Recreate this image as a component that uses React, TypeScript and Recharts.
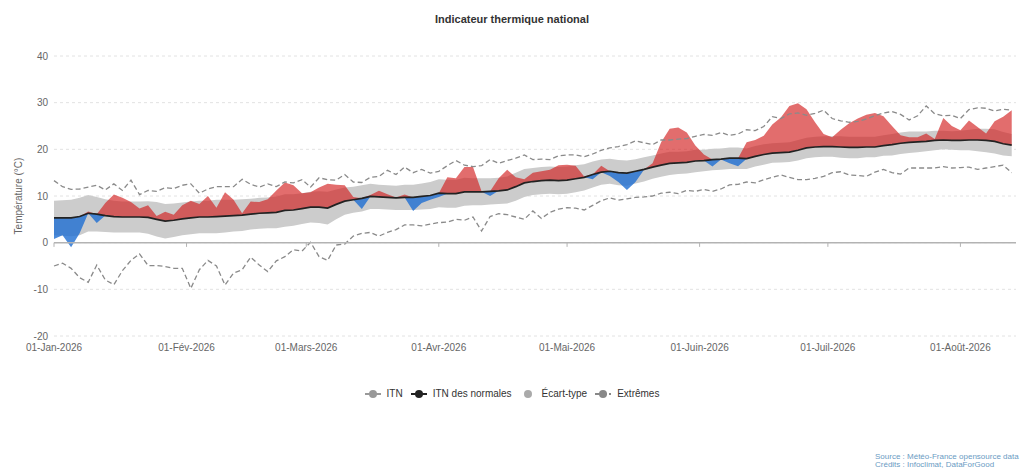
import { Area, CartesianGrid, ComposedChart, Line, ReferenceLine, XAxis, YAxis } from "recharts";

const FONT = "'Liberation Sans', Arial, Helvetica, sans-serif";

// x axis: day of year from 01-Jan-2026, labelled on the 1st of each month
const monthDays = [0, 31, 59, 90, 120, 151, 181, 212];
const monthLabels = [
  "01-Jan-2026",
  "01-Fév-2026",
  "01-Mars-2026",
  "01-Avr-2026",
  "01-Mai-2026",
  "01-Juin-2026",
  "01-Juil-2026",
  "01-Août-2026",
];
const yTicks = [-20, -10, 0, 10, 20, 30, 40];

// one reading every 2 days, 01-Jan -> 13-Août
const itn = [
  0.8, 1.6, -1.0, 2.0, 6.7, 4.2, 8.5, 10.3, 9.6, 8.7,
  7.3, 8.0, 5.7, 6.6, 6.0, 8.0, 9.0, 8.3, 10.0, 7.5,
  10.8, 9.2, 6.3, 8.8, 8.7, 9.3, 11.2, 12.9, 12.3, 10.6,
  10.8, 11.8, 12.6, 12.4, 12.3, 9.8, 7.2, 10.2, 11.1, 10.4,
  9.7, 10.3, 6.8, 8.5, 9.2, 9.8, 14.0, 13.8, 16.2, 16.2,
  11.0, 10.0, 13.8, 15.6, 14.0, 13.6, 15.0, 15.3, 15.6, 16.6,
  16.7, 16.5, 14.2, 13.6, 16.5, 14.3, 13.0, 11.3, 13.0, 15.6,
  17.0, 21.5, 24.4, 24.7, 23.6, 20.8, 18.9, 16.3, 17.8, 17.0,
  16.4, 21.5, 22.0, 22.9, 25.3, 26.8, 29.3, 29.9, 28.6, 25.8,
  23.3, 22.6, 24.2, 25.6, 26.6, 27.4, 27.8, 27.1, 25.0, 23.0,
  22.6, 22.6, 23.4, 22.2, 26.7, 25.0, 24.1, 26.2, 24.8, 23.4,
  26.0, 27.0, 28.4,
];

const normales = [
  5.3, 5.3, 5.3, 5.6, 6.3, 6.1, 5.8, 5.6, 5.5, 5.5,
  5.5, 5.4, 5.0, 4.6, 4.8, 5.1, 5.3, 5.5, 5.5, 5.6,
  5.7, 5.8, 5.9, 6.1, 6.3, 6.4, 6.5, 6.9, 7.0, 7.3,
  7.6, 7.6, 7.4, 8.2, 8.9, 9.2, 9.5, 9.9, 9.8, 9.7,
  9.6, 9.7, 9.7, 9.9, 10.1, 10.6, 10.5, 10.5, 10.9, 10.9,
  10.9, 11.0, 11.1, 11.3, 12.0, 12.8, 13.1, 13.3, 13.4, 13.3,
  13.4, 13.7, 14.0, 14.6, 15.1, 15.3, 15.0, 14.9, 15.3, 15.7,
  16.2, 16.6, 17.0, 17.1, 17.2, 17.5, 17.6, 17.8, 17.9, 18.1,
  18.1, 18.0, 18.5, 18.9, 19.2, 19.3, 19.4, 19.8, 20.3, 20.5,
  20.6, 20.6, 20.5, 20.4, 20.4, 20.5, 20.5, 20.8, 21.0, 21.3,
  21.5, 21.6, 21.7, 21.9, 22.0, 21.9, 21.9, 22.0, 22.0, 21.9,
  21.7, 21.2, 20.9,
];

const ecartType = [
  3.7, 3.8, 3.9, 4.0, 3.9, 3.7, 3.5, 3.4, 3.3, 3.3,
  3.3, 3.5, 3.7, 3.7, 3.6, 3.5, 3.5, 3.5, 3.5, 3.6,
  3.5, 3.4, 3.4, 3.3, 3.3, 3.3, 3.4, 3.5, 3.4, 3.3,
  3.3, 3.4, 3.5, 3.2, 2.9, 2.8, 2.8, 2.7, 2.6, 2.6,
  2.6, 2.7, 2.7, 2.8, 2.9, 3.0, 3.0, 3.0, 3.0, 2.9,
  2.9, 2.8, 2.8, 2.9, 3.0, 3.0, 2.9, 2.9, 2.9, 2.9,
  2.9, 2.9, 2.8, 2.8, 2.7, 2.7, 2.7, 2.7, 2.6, 2.6,
  2.5, 2.5, 2.5, 2.4, 2.4, 2.4, 2.3, 2.3, 2.3, 2.3,
  2.3, 2.2, 2.2, 2.2, 2.1, 2.1, 2.1, 2.2, 2.2, 2.2,
  2.2, 2.2, 2.3, 2.3, 2.3, 2.2, 2.2, 2.2, 2.3, 2.3,
  2.3, 2.2, 2.1, 2.1, 2.0, 2.0, 2.1, 2.2, 2.4, 2.5,
  2.6, 2.5, 2.4,
];

const recordMax = [
  13.3, 12.0, 11.4, 11.5, 11.9, 12.3, 11.3, 12.6, 11.2, 13.4,
  10.3, 11.2, 11.0, 11.8, 11.6, 12.3, 12.6, 10.6, 11.5, 12.0,
  12.0, 12.0, 13.6, 12.5, 11.9, 12.6, 12.0, 13.0, 12.8, 13.5,
  11.9, 13.9, 13.5, 13.4, 14.6, 13.0, 12.9, 14.0, 14.2, 15.5,
  14.6, 16.2, 15.0, 15.7, 14.9, 15.3, 16.5, 17.6, 16.6, 16.3,
  16.5, 17.8, 17.0, 17.6, 18.1, 18.8, 17.8, 17.9, 17.8, 18.6,
  18.8, 18.8, 18.4, 19.0, 19.8, 20.3, 20.6, 21.0, 21.8, 21.4,
  21.0, 22.0, 22.0, 22.2, 22.3, 22.8, 23.2, 23.0, 23.6, 23.0,
  23.3, 24.2, 24.0, 24.9, 27.0, 26.6, 27.6, 27.8, 27.3, 27.7,
  28.4, 26.6, 26.1, 25.8, 26.0, 26.5, 27.2, 27.8, 28.1, 27.5,
  26.3, 27.2, 29.3, 27.6, 27.2, 27.3, 26.6, 28.5, 28.9, 28.8,
  28.2, 28.6, 28.4,
];

const recordMin = [
  -5.0, -4.4, -5.5, -7.5, -8.5, -4.8, -8.0, -9.0, -6.0, -3.8,
  -2.4, -4.9, -4.9, -5.1, -5.5, -5.5, -9.8, -5.8, -3.8, -5.0,
  -9.1, -6.5, -5.8, -3.1, -4.8, -6.2, -3.9, -3.0, -1.5, -1.8,
  0.1, -3.0, -3.8, -0.5, -0.3, 1.4, 2.0, 2.2, 1.4, 2.2,
  2.8, 3.8, 3.8, 3.6, 4.0, 4.3, 4.4, 5.0, 4.8, 5.5,
  2.5, 5.6, 6.2, 6.0, 5.5, 5.0, 6.8, 5.2, 6.5, 7.2,
  7.5, 7.4, 7.0, 8.0, 9.0, 9.6, 9.1, 9.4, 9.7, 9.8,
  10.0, 10.6, 10.8, 10.5, 11.2, 11.0, 11.4, 11.0, 11.5, 12.4,
  12.5, 13.0, 12.8, 13.5, 14.0, 14.5, 14.0, 13.5, 13.5, 13.8,
  14.2, 15.0, 15.2, 14.5, 14.4, 14.2, 15.1, 15.7, 15.0, 14.7,
  16.0, 16.0, 16.0, 16.0, 16.3, 16.0, 16.1, 16.2, 15.7, 16.0,
  16.3, 16.6, 15.0,
];

const data = normales.map((n, i) => {
  const t = itn[i];
  const s = ecartType[i];
  return {
    day: i * 2,
    itn: t,
    normale: n,
    ecart: [n - s, n + s],
    chaud: [n, Math.max(t, n)],
    froid: [Math.min(t, n), n],
    max: recordMax[i],
    min: recordMin[i],
  };
});

const axisGrey = "#b3b3b3";
const tickStyle = { fontSize: 10, fill: "#666", fontFamily: FONT };

function LegendIcon({ color, line, dashed }: { color: string; line: boolean; dashed?: boolean }) {
  return (
    <svg width={16} height={10} style={{ marginRight: 6 }}>
      {line && (
        <line x1={0} y1={5} x2={16} y2={5} stroke={color} strokeWidth={2} strokeDasharray={dashed ? "5 2" : undefined} />
      )}
      <circle cx={8} cy={5} r={4} fill={color} />
    </svg>
  );
}

const legendItems = [
  { label: "ITN", color: "#999", line: true },
  { label: "ITN des normales", color: "#222", line: true },
  { label: "Écart-type", color: "#aaa", line: false },
  { label: "Extrêmes", color: "#888", line: true, dashed: true },
];

export default function App() {
  return (
    <div style={{ position: "absolute", left: 0, top: 0, width: 1024, height: 471, background: "#fff", fontFamily: FONT }}>
      <ComposedChart width={1024} height={471} data={data} margin={{ top: 56, right: 8, bottom: 105, left: 0 }}>
        <CartesianGrid vertical={false} strokeDasharray="3 3" stroke="#e2e2e2" />
        <XAxis
          dataKey="day"
          type="number"
          domain={[0, 225]}
          ticks={monthDays}
          interval={0}
          tickFormatter={(d: number) => monthLabels[monthDays.indexOf(d)]}
          axisLine={false}
          tickLine={false}
          tick={tickStyle}
          height={30}
        />
        <YAxis
          type="number"
          domain={[-20, 40]}
          ticks={yTicks}
          interval={0}
          axisLine={false}
          tickLine={false}
          tickSize={4}
          tickMargin={2}
          tick={tickStyle}
          width={54}
        />
        <Area dataKey="ecart" type="linear" fill="#cccccc" fillOpacity={1} stroke="none" isAnimationActive={false} />
        <Line dataKey="max" type="linear" stroke="#8a8a8a" strokeWidth={1.3} strokeDasharray="5 3" dot={false} isAnimationActive={false} />
        <Line dataKey="min" type="linear" stroke="#8a8a8a" strokeWidth={1.3} strokeDasharray="5 3" dot={false} isAnimationActive={false} />
        <Area dataKey="chaud" type="linear" fill="rgb(210,30,30)" fillOpacity={0.65} stroke="none" isAnimationActive={false} />
        <Area dataKey="froid" type="linear" fill="rgb(30,110,210)" fillOpacity={0.8} stroke="none" isAnimationActive={false} />
        <ReferenceLine y={0} stroke={axisGrey} strokeWidth={1.5} />
        {monthDays.map((d) => (
          <ReferenceLine
            key={d}
            segment={[
              { x: d, y: 0 },
              { x: d, y: -0.9 },
            ]}
            stroke={axisGrey}
            strokeWidth={1}
          />
        ))}
        <Line dataKey="normale" type="linear" stroke="#222" strokeWidth={1.7} dot={false} isAnimationActive={false} />
      </ComposedChart>

      <div style={{ position: "absolute", top: 13, left: 0, width: 1024, textAlign: "center", fontSize: 11, fontWeight: "bold", color: "#333" }}>
        Indicateur thermique national
      </div>

      <div
        style={{
          position: "absolute",
          left: 18,
          top: 196,
          transform: "translate(-50%, -50%) rotate(-90deg)",
          fontSize: 10,
          color: "#666",
          whiteSpace: "nowrap",
        }}
      >
        Température (°C)
      </div>

      <div
        style={{
          position: "absolute",
          top: 388,
          left: 0,
          width: 1024,
          display: "flex",
          justifyContent: "center",
          alignItems: "center",
          gap: 8,
          fontSize: 10,
          color: "#333",
        }}
      >
        {legendItems.map((it) => (
          <div key={it.label} style={{ display: "flex", alignItems: "center" }}>
            <LegendIcon color={it.color} line={it.line} dashed={it.dashed} />
            <span>{it.label}</span>
          </div>
        ))}
      </div>

      <div style={{ position: "absolute", left: 875, top: 453, fontSize: 8, lineHeight: "8px", color: "#6a9bc3" }}>
        <div>Source : Météo-France opensource data</div>
        <div>Crédits : Infoclimat, DataForGood</div>
      </div>
    </div>
  );
}
